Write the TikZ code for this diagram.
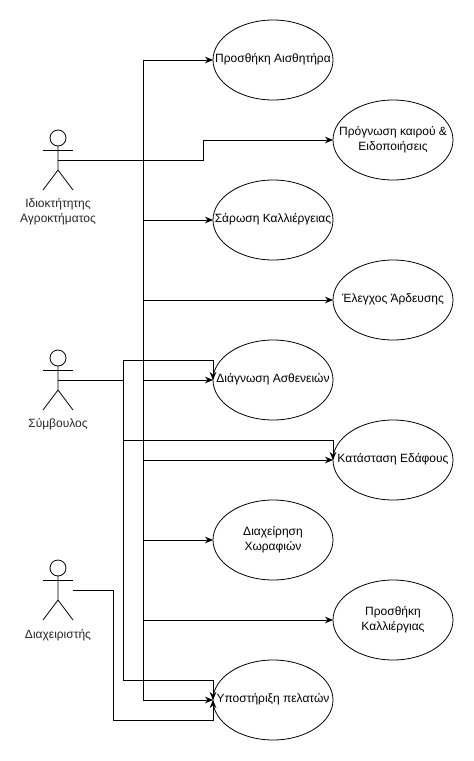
\documentclass[tikz,border=0pt]{standalone}
\usepackage{fontspec}
\setmainfont{Liberation Sans}
\usetikzlibrary{arrows.meta}
\usetikzlibrary{shapes.geometric}

\newcommand{\uctext}[1]{\raisebox{-1pt}{\makebox[0pt]{\begin{tabular}{@{}c@{}}#1\end{tabular}}}}

\tikzset{
	usecase/.style={ellipse, draw, line width=0.6pt, minimum width=90pt, minimum height=60pt, inner sep=0pt, outer sep=0pt, font=\fontsize{9}{11}\selectfont},
	actorhead/.style={circle, draw, line width=0.6pt, minimum size=12pt, inner sep=0pt, outer sep=0pt},
	actorlabel/.style={align=center, inner sep=0pt, font=\fontsize{9}{11}\selectfont, text=black!85},
	flow/.style={line width=0.75pt, -{Stealth[length=6pt, width=5pt]}},
	plain/.style={line width=0.75pt}
}

\begin{document}
\begin{tikzpicture}[x=0.75pt, y=-0.75pt]
	\useasboundingbox (0,0) rectangle (474,761);

	% use cases
	\node[usecase] (sensor) at (273,60) {\uctext{Προσθήκη Αισθητήρα}};
	\node[usecase] (weather) at (393,140) {\uctext{Πρόγνωση καιρού \&\\Ειδοποιήσεις}};
	\node[usecase] (scan) at (273,220) {\uctext{Σάρωση Καλλιέργειας}};
	\node[usecase] (irrigation) at (393,300) {\uctext{Έλεγχος Άρδευσης}};
	\node[usecase] (disease) at (273,380) {\uctext{Διάγνωση Ασθενειών}};
	\node[usecase] (soil) at (393,460) {\uctext{Κατάσταση Εδάφους}};
	\node[usecase] (fields) at (273,540) {\uctext{Διαχείρηση\\Χωραφιών}};
	\node[usecase] (crop) at (393,620) {\uctext{Προσθήκη\\Καλλιέργιας}};
	\node[usecase] (support) at (273,700) {\uctext{Υποστήριξη πελατών}};

	% actors
	\foreach \nm/\py in {owner/130, advisor/350, admin/560} {
		\node[actorhead] (\nm-head) at (58,\py+8) {};
		\draw[line width=0.6pt] (\nm-head.south) -- (58,\py+40) -- (43,\py+60);
		\draw[line width=0.6pt] (58,\py+40) -- (73,\py+60);
		\draw[line width=0.6pt] (43,\py+20) -- (73,\py+20);
	}
	\node[actorlabel] (owner-label) at (58,212) {Ιδιοκτήτητης\\Αγροκτήματος};
	\node[actorlabel] (advisor-label) at (58,424) {Σύμβουλος};
	\node[actorlabel] (admin-label) at (58,635) {Διαχειριστής};

	\coordinate (owner) at (58,160);
	\coordinate (advisor) at (58,380);
	\coordinate (admin) at (73,590);
	\coordinate (trunk) at (143,160);
	\coordinate (step) at (203,160);
	\coordinate (branch) at (123,380);
	\coordinate (outer) at (113,590);

	% owner
	\draw[plain] (owner) -- (trunk);
	\draw[flow] (trunk) |- (sensor.west);
	\draw[flow] (trunk) -- (step) |- (weather.west);
	\draw[flow] (trunk) |- (scan.west);
	\draw[flow] (trunk) |- (irrigation.west);
	\draw[flow] (trunk) |- (disease.west);
	\draw[flow] (trunk) |- (soil.west);
	\draw[flow] (trunk) |- (fields.west);
	\draw[flow] (trunk) |- (crop.west);
	\draw[flow] (trunk) |- (support.west);

	% advisor
	\draw[plain] (advisor) -- (branch);
	\draw[flow] (branch) -- (123,360) -- (213,360) -- (disease.west);
	\draw[flow] (branch) -- (123,440) -- (333,440) -- (soil.west);
	\draw[flow] (branch) -- (123,680) -- (213,680) -- (support.west);

	% admin
	\draw[flow] (admin) -- (outer) -- (113,720) -- (213,720) -- (support.west);
\end{tikzpicture}
\end{document}
